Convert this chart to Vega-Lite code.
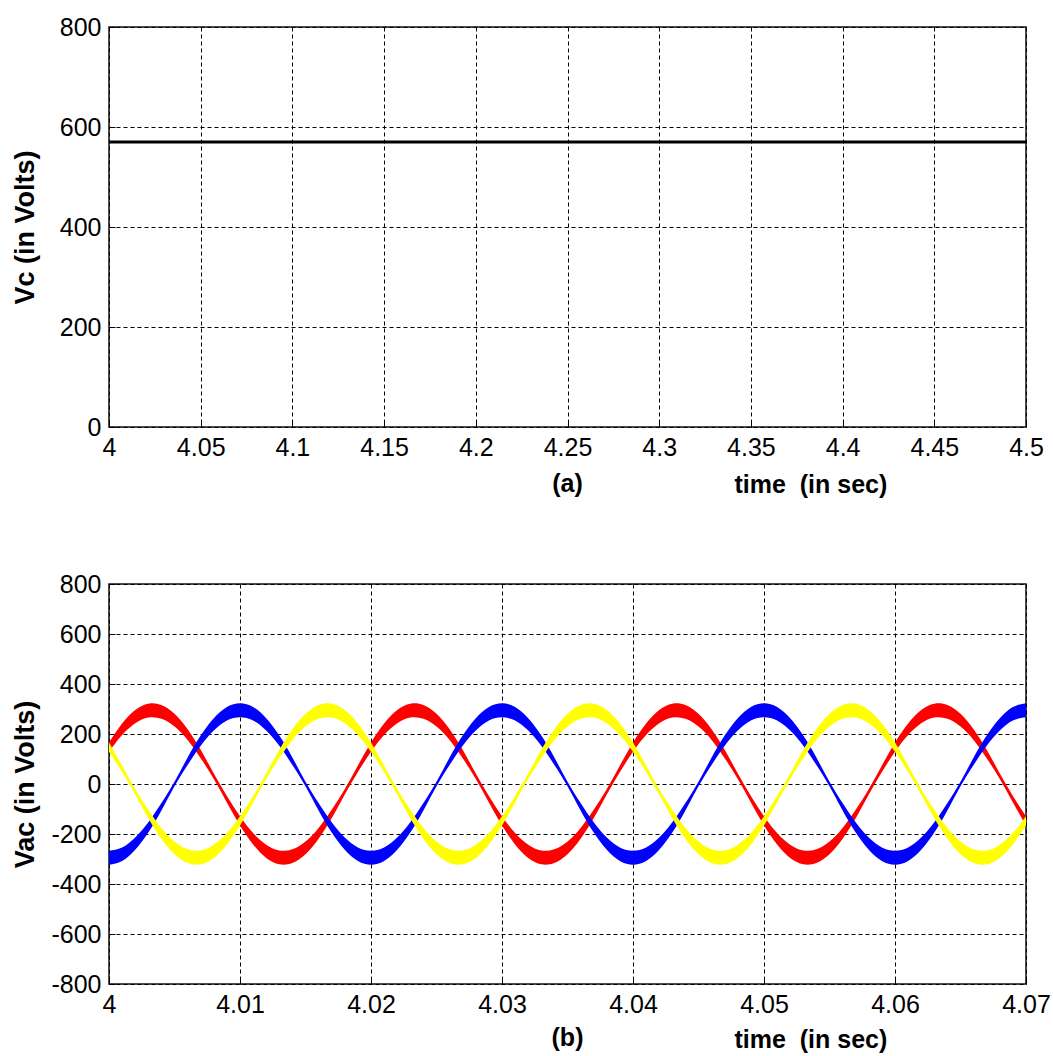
{
  "$schema": "https://vega.github.io/schema/vega-lite/v6.json",
  "padding": {"left": 10, "top": 14, "right": 20, "bottom": 0},
  "spacing": 73,
  "config": {
    "font": "Liberation Sans",
    "view": {"stroke": "#111", "strokeWidth": 1.5},
    "axis": {
      "labelFont": "Liberation Sans", "labelFontSize": 25, "labelColor": "#000",
      "titleFont": "Liberation Sans", "titleFontSize": 25, "titleFontWeight": "bold", "titleColor": "#000",
      "grid": true, "gridColor": "#000", "gridDash": [4, 3], "gridOpacity": 1, "gridWidth": 1,
      "domain": false, "tickColor": "#000", "tickSize": -6, "tickWidth": 1,
      "labelFlush": false, "labelOverlap": false, "labelPadding": 14
    },
    "axisY": {"minExtent": 58, "maxExtent": 58, "titlePadding": 12, "titleFontSize": 27},
    "title": {"font": "Liberation Sans", "fontSize": 25, "fontWeight": "bold", "color": "#000", "frame": "group", "anchor": "middle"}
  },
  "datasets": {
    "vac": [
      {"t":4.000,"phase":"a","lo":129,"hi":166},{"t":4.001,"phase":"a","lo":196,"hi":242},{"t":4.002,"phase":"a","lo":243,"hi":296},{"t":4.003,"phase":"a","lo":266,"hi":321},{"t":4.004,"phase":"a","lo":261,"hi":316},
      {"t":4.005,"phase":"a","lo":230,"hi":281},{"t":4.006,"phase":"a","lo":176,"hi":219},{"t":4.007,"phase":"a","lo":103,"hi":137},{"t":4.008,"phase":"a","lo":20,"hi":42},{"t":4.009,"phase":"a","lo":-74,"hi":-48},
      {"t":4.010,"phase":"a","lo":-166,"hi":-129},{"t":4.011,"phase":"a","lo":-242,"hi":-196},{"t":4.012,"phase":"a","lo":-296,"hi":-243},{"t":4.013,"phase":"a","lo":-321,"hi":-266},{"t":4.014,"phase":"a","lo":-316,"hi":-261},
      {"t":4.015,"phase":"a","lo":-281,"hi":-230},{"t":4.016,"phase":"a","lo":-219,"hi":-176},{"t":4.017,"phase":"a","lo":-137,"hi":-103},{"t":4.018,"phase":"a","lo":-42,"hi":-20},{"t":4.019,"phase":"a","lo":48,"hi":74},
      {"t":4.020,"phase":"a","lo":129,"hi":166},{"t":4.021,"phase":"a","lo":196,"hi":242},{"t":4.022,"phase":"a","lo":243,"hi":296},{"t":4.023,"phase":"a","lo":266,"hi":321},{"t":4.024,"phase":"a","lo":261,"hi":316},
      {"t":4.025,"phase":"a","lo":230,"hi":281},{"t":4.026,"phase":"a","lo":176,"hi":219},{"t":4.027,"phase":"a","lo":103,"hi":137},{"t":4.028,"phase":"a","lo":20,"hi":42},{"t":4.029,"phase":"a","lo":-74,"hi":-48},
      {"t":4.030,"phase":"a","lo":-166,"hi":-129},{"t":4.031,"phase":"a","lo":-242,"hi":-196},{"t":4.032,"phase":"a","lo":-296,"hi":-243},{"t":4.033,"phase":"a","lo":-321,"hi":-266},{"t":4.034,"phase":"a","lo":-316,"hi":-261},
      {"t":4.035,"phase":"a","lo":-281,"hi":-230},{"t":4.036,"phase":"a","lo":-219,"hi":-176},{"t":4.037,"phase":"a","lo":-137,"hi":-103},{"t":4.038,"phase":"a","lo":-42,"hi":-20},{"t":4.039,"phase":"a","lo":48,"hi":74},
      {"t":4.040,"phase":"a","lo":129,"hi":166},{"t":4.041,"phase":"a","lo":196,"hi":242},{"t":4.042,"phase":"a","lo":243,"hi":296},{"t":4.043,"phase":"a","lo":266,"hi":321},{"t":4.044,"phase":"a","lo":261,"hi":316},
      {"t":4.045,"phase":"a","lo":230,"hi":281},{"t":4.046,"phase":"a","lo":176,"hi":219},{"t":4.047,"phase":"a","lo":103,"hi":137},{"t":4.048,"phase":"a","lo":20,"hi":42},{"t":4.049,"phase":"a","lo":-74,"hi":-48},
      {"t":4.050,"phase":"a","lo":-166,"hi":-129},{"t":4.051,"phase":"a","lo":-242,"hi":-196},{"t":4.052,"phase":"a","lo":-296,"hi":-243},{"t":4.053,"phase":"a","lo":-321,"hi":-266},{"t":4.054,"phase":"a","lo":-316,"hi":-261},
      {"t":4.055,"phase":"a","lo":-281,"hi":-230},{"t":4.056,"phase":"a","lo":-219,"hi":-176},{"t":4.057,"phase":"a","lo":-137,"hi":-103},{"t":4.058,"phase":"a","lo":-42,"hi":-20},{"t":4.059,"phase":"a","lo":48,"hi":74},
      {"t":4.060,"phase":"a","lo":129,"hi":166},{"t":4.061,"phase":"a","lo":196,"hi":242},{"t":4.062,"phase":"a","lo":243,"hi":296},{"t":4.063,"phase":"a","lo":266,"hi":321},{"t":4.064,"phase":"a","lo":261,"hi":316},
      {"t":4.065,"phase":"a","lo":230,"hi":281},{"t":4.066,"phase":"a","lo":176,"hi":219},{"t":4.067,"phase":"a","lo":103,"hi":137},{"t":4.068,"phase":"a","lo":20,"hi":42},{"t":4.069,"phase":"a","lo":-74,"hi":-48},
      {"t":4.070,"phase":"a","lo":-166,"hi":-129},

      {"t":4.000,"phase":"b","lo":-323,"hi":-267},{"t":4.001,"phase":"b","lo":-308,"hi":-254},{"t":4.002,"phase":"b","lo":-263,"hi":-214},{"t":4.003,"phase":"b","lo":-194,"hi":-153},{"t":4.004,"phase":"b","lo":-106,"hi":-76},
      {"t":4.005,"phase":"b","lo":-9,"hi":9},{"t":4.006,"phase":"b","lo":76,"hi":106},{"t":4.007,"phase":"b","lo":153,"hi":194},{"t":4.008,"phase":"b","lo":214,"hi":263},{"t":4.009,"phase":"b","lo":254,"hi":308},
      {"t":4.010,"phase":"b","lo":267,"hi":323},{"t":4.011,"phase":"b","lo":254,"hi":308},{"t":4.012,"phase":"b","lo":214,"hi":263},{"t":4.013,"phase":"b","lo":153,"hi":194},{"t":4.014,"phase":"b","lo":76,"hi":106},
      {"t":4.015,"phase":"b","lo":-9,"hi":9},{"t":4.016,"phase":"b","lo":-106,"hi":-76},{"t":4.017,"phase":"b","lo":-194,"hi":-153},{"t":4.018,"phase":"b","lo":-263,"hi":-214},{"t":4.019,"phase":"b","lo":-308,"hi":-254},
      {"t":4.020,"phase":"b","lo":-323,"hi":-267},{"t":4.021,"phase":"b","lo":-308,"hi":-254},{"t":4.022,"phase":"b","lo":-263,"hi":-214},{"t":4.023,"phase":"b","lo":-194,"hi":-153},{"t":4.024,"phase":"b","lo":-106,"hi":-76},
      {"t":4.025,"phase":"b","lo":-9,"hi":9},{"t":4.026,"phase":"b","lo":76,"hi":106},{"t":4.027,"phase":"b","lo":153,"hi":194},{"t":4.028,"phase":"b","lo":214,"hi":263},{"t":4.029,"phase":"b","lo":254,"hi":308},
      {"t":4.030,"phase":"b","lo":267,"hi":323},{"t":4.031,"phase":"b","lo":254,"hi":308},{"t":4.032,"phase":"b","lo":214,"hi":263},{"t":4.033,"phase":"b","lo":153,"hi":194},{"t":4.034,"phase":"b","lo":76,"hi":106},
      {"t":4.035,"phase":"b","lo":-9,"hi":9},{"t":4.036,"phase":"b","lo":-106,"hi":-76},{"t":4.037,"phase":"b","lo":-194,"hi":-153},{"t":4.038,"phase":"b","lo":-263,"hi":-214},{"t":4.039,"phase":"b","lo":-308,"hi":-254},
      {"t":4.040,"phase":"b","lo":-323,"hi":-267},{"t":4.041,"phase":"b","lo":-308,"hi":-254},{"t":4.042,"phase":"b","lo":-263,"hi":-214},{"t":4.043,"phase":"b","lo":-194,"hi":-153},{"t":4.044,"phase":"b","lo":-106,"hi":-76},
      {"t":4.045,"phase":"b","lo":-9,"hi":9},{"t":4.046,"phase":"b","lo":76,"hi":106},{"t":4.047,"phase":"b","lo":153,"hi":194},{"t":4.048,"phase":"b","lo":214,"hi":263},{"t":4.049,"phase":"b","lo":254,"hi":308},
      {"t":4.050,"phase":"b","lo":267,"hi":323},{"t":4.051,"phase":"b","lo":254,"hi":308},{"t":4.052,"phase":"b","lo":214,"hi":263},{"t":4.053,"phase":"b","lo":153,"hi":194},{"t":4.054,"phase":"b","lo":76,"hi":106},
      {"t":4.055,"phase":"b","lo":-9,"hi":9},{"t":4.056,"phase":"b","lo":-106,"hi":-76},{"t":4.057,"phase":"b","lo":-194,"hi":-153},{"t":4.058,"phase":"b","lo":-263,"hi":-214},{"t":4.059,"phase":"b","lo":-308,"hi":-254},
      {"t":4.060,"phase":"b","lo":-323,"hi":-267},{"t":4.061,"phase":"b","lo":-308,"hi":-254},{"t":4.062,"phase":"b","lo":-263,"hi":-214},{"t":4.063,"phase":"b","lo":-194,"hi":-153},{"t":4.064,"phase":"b","lo":-106,"hi":-76},
      {"t":4.065,"phase":"b","lo":-9,"hi":9},{"t":4.066,"phase":"b","lo":76,"hi":106},{"t":4.067,"phase":"b","lo":153,"hi":194},{"t":4.068,"phase":"b","lo":214,"hi":263},{"t":4.069,"phase":"b","lo":254,"hi":308},
      {"t":4.070,"phase":"b","lo":267,"hi":323},

      {"t":4.000,"phase":"c","lo":129,"hi":166},{"t":4.001,"phase":"c","lo":48,"hi":74},{"t":4.002,"phase":"c","lo":-42,"hi":-20},{"t":4.003,"phase":"c","lo":-137,"hi":-103},{"t":4.004,"phase":"c","lo":-219,"hi":-176},
      {"t":4.005,"phase":"c","lo":-281,"hi":-230},{"t":4.006,"phase":"c","lo":-316,"hi":-261},{"t":4.007,"phase":"c","lo":-321,"hi":-266},{"t":4.008,"phase":"c","lo":-296,"hi":-243},{"t":4.009,"phase":"c","lo":-242,"hi":-196},
      {"t":4.010,"phase":"c","lo":-166,"hi":-129},{"t":4.011,"phase":"c","lo":-74,"hi":-48},{"t":4.012,"phase":"c","lo":20,"hi":42},{"t":4.013,"phase":"c","lo":103,"hi":137},{"t":4.014,"phase":"c","lo":176,"hi":219},
      {"t":4.015,"phase":"c","lo":230,"hi":281},{"t":4.016,"phase":"c","lo":261,"hi":316},{"t":4.017,"phase":"c","lo":266,"hi":321},{"t":4.018,"phase":"c","lo":243,"hi":296},{"t":4.019,"phase":"c","lo":196,"hi":242},
      {"t":4.020,"phase":"c","lo":129,"hi":166},{"t":4.021,"phase":"c","lo":48,"hi":74},{"t":4.022,"phase":"c","lo":-42,"hi":-20},{"t":4.023,"phase":"c","lo":-137,"hi":-103},{"t":4.024,"phase":"c","lo":-219,"hi":-176},
      {"t":4.025,"phase":"c","lo":-281,"hi":-230},{"t":4.026,"phase":"c","lo":-316,"hi":-261},{"t":4.027,"phase":"c","lo":-321,"hi":-266},{"t":4.028,"phase":"c","lo":-296,"hi":-243},{"t":4.029,"phase":"c","lo":-242,"hi":-196},
      {"t":4.030,"phase":"c","lo":-166,"hi":-129},{"t":4.031,"phase":"c","lo":-74,"hi":-48},{"t":4.032,"phase":"c","lo":20,"hi":42},{"t":4.033,"phase":"c","lo":103,"hi":137},{"t":4.034,"phase":"c","lo":176,"hi":219},
      {"t":4.035,"phase":"c","lo":230,"hi":281},{"t":4.036,"phase":"c","lo":261,"hi":316},{"t":4.037,"phase":"c","lo":266,"hi":321},{"t":4.038,"phase":"c","lo":243,"hi":296},{"t":4.039,"phase":"c","lo":196,"hi":242},
      {"t":4.040,"phase":"c","lo":129,"hi":166},{"t":4.041,"phase":"c","lo":48,"hi":74},{"t":4.042,"phase":"c","lo":-42,"hi":-20},{"t":4.043,"phase":"c","lo":-137,"hi":-103},{"t":4.044,"phase":"c","lo":-219,"hi":-176},
      {"t":4.045,"phase":"c","lo":-281,"hi":-230},{"t":4.046,"phase":"c","lo":-316,"hi":-261},{"t":4.047,"phase":"c","lo":-321,"hi":-266},{"t":4.048,"phase":"c","lo":-296,"hi":-243},{"t":4.049,"phase":"c","lo":-242,"hi":-196},
      {"t":4.050,"phase":"c","lo":-166,"hi":-129},{"t":4.051,"phase":"c","lo":-74,"hi":-48},{"t":4.052,"phase":"c","lo":20,"hi":42},{"t":4.053,"phase":"c","lo":103,"hi":137},{"t":4.054,"phase":"c","lo":176,"hi":219},
      {"t":4.055,"phase":"c","lo":230,"hi":281},{"t":4.056,"phase":"c","lo":261,"hi":316},{"t":4.057,"phase":"c","lo":266,"hi":321},{"t":4.058,"phase":"c","lo":243,"hi":296},{"t":4.059,"phase":"c","lo":196,"hi":242},
      {"t":4.060,"phase":"c","lo":129,"hi":166},{"t":4.061,"phase":"c","lo":48,"hi":74},{"t":4.062,"phase":"c","lo":-42,"hi":-20},{"t":4.063,"phase":"c","lo":-137,"hi":-103},{"t":4.064,"phase":"c","lo":-219,"hi":-176},
      {"t":4.065,"phase":"c","lo":-281,"hi":-230},{"t":4.066,"phase":"c","lo":-316,"hi":-261},{"t":4.067,"phase":"c","lo":-321,"hi":-266},{"t":4.068,"phase":"c","lo":-296,"hi":-243},{"t":4.069,"phase":"c","lo":-242,"hi":-196},
      {"t":4.070,"phase":"c","lo":-166,"hi":-129}
    ]
  },
  "vconcat": [
    {
      "width": 917,
      "height": 400,
      "title": {"text": "(a)", "orient": "bottom", "offset": -25},
      "data": {"values": [
        {"t":4.00,"vc":570},{"t":4.05,"vc":570},{"t":4.10,"vc":570},{"t":4.15,"vc":570},{"t":4.20,"vc":570},{"t":4.25,"vc":570},
        {"t":4.30,"vc":570},{"t":4.35,"vc":570},{"t":4.40,"vc":570},{"t":4.45,"vc":570},{"t":4.50,"vc":570}
      ]},
      "mark": {"type": "line", "color": "#000", "strokeWidth": 3},
      "encoding": {
        "x": {
          "field": "t", "type": "quantitative",
          "scale": {"domain": [4, 4.5], "nice": false, "zero": false},
          "axis": {"values": [4, 4.05, 4.1, 4.15, 4.2, 4.25, 4.3, 4.35, 4.4, 4.45, 4.5], "format": ".2~f",
                   "title": "time\u00a0 (in sec)", "titleX": 625, "titleY": 45, "titleAlign": "left", "titleBaseline": "top"}
        },
        "y": {
          "field": "vc", "type": "quantitative",
          "scale": {"domain": [0, 800], "nice": false},
          "axis": {"values": [0, 200, 400, 600, 800], "title": "Vc (in Volts)"}
        }
      }
    },
    {
      "width": 917,
      "height": 400,
      "title": {"text": "(b)", "orient": "bottom", "offset": -26},
      "data": {"name": "vac"},
      "mark": {"type": "area", "interpolate": "natural"},
      "encoding": {
        "x": {
          "field": "t", "type": "quantitative",
          "scale": {"domain": [4, 4.07], "nice": false, "zero": false},
          "axis": {"values": [4, 4.01, 4.02, 4.03, 4.04, 4.05, 4.06, 4.07], "format": ".2~f",
                   "title": "time\u00a0 (in sec)", "titleX": 625, "titleY": 43, "titleAlign": "left", "titleBaseline": "top"}
        },
        "y": {
          "field": "lo", "type": "quantitative", "stack": null,
          "scale": {"domain": [-800, 800], "nice": false},
          "axis": {"values": [-800, -600, -400, -200, 0, 200, 400, 600, 800], "title": "Vac (in Volts)",
                   "labelExpr": "replace(datum.label, '\u2212', '-')"}
        },
        "y2": {"field": "hi"},
        "color": {
          "field": "phase", "type": "nominal",
          "scale": {"domain": ["a", "b", "c"], "range": ["#ff0000", "#0000ff", "#ffff00"]},
          "legend": null
        }
      }
    }
  ]
}
